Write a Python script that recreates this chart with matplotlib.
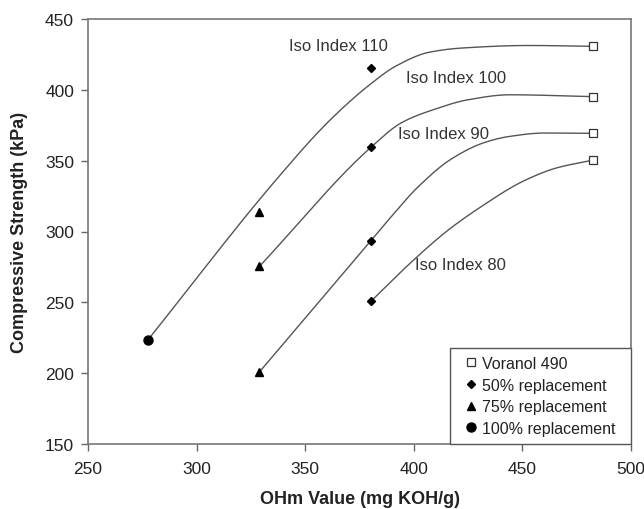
import numpy as np
import matplotlib
matplotlib.use("Agg")
from matplotlib import pyplot as plt

plt.rcParams['font.family'] = ['Liberation Sans', 'DejaVu Sans']

# measured points (OH value, compressive strength)
voranol_x = [482.6, 482.6, 482.6, 482.6]
voranol_y = [430.7, 395.2, 369.3, 350.4]
rep50_x = [380.3, 380.3, 380.3, 380.3]
rep50_y = [415.2, 359.5, 293.5, 250.8]
rep75_x = [328.9, 328.9, 328.9]
rep75_y = [313.8, 275.3, 200.8]
rep100_x = [277.7]
rep100_y = [223.7]

# iso index curves, knots along each line
iso110_x = [277.7, 338.0, 361.0, 380.0, 392.0, 407.0, 422.0, 453.0, 482.6]
iso110_y = [223.7, 339.0, 378.0, 404.0, 417.0, 426.5, 429.5, 431.3, 430.7]
iso100_x = [328.9, 380.3, 394.6, 410.0, 425.0, 444.0, 482.6]
iso100_y = [275.3, 359.5, 377.0, 386.5, 393.0, 396.5, 395.2]
iso90_x = [328.9, 380.3, 388.5, 402.3, 417.6, 432.9, 443.6, 460.0, 482.6]
iso90_y = [200.8, 293.5, 308.5, 332.0, 351.5, 363.0, 367.0, 369.5, 369.3]
iso80_x = [380.3, 400.0, 415.0, 430.0, 451.0, 466.0, 482.6]
iso80_y = [250.8, 280.0, 300.0, 316.5, 336.0, 345.0, 350.4]

curves = [(iso110_x, iso110_y), (iso100_x, iso100_y),
          (iso90_x, iso90_y), (iso80_x, iso80_y)]

labels = ["Iso Index 110", "Iso Index 100", "Iso Index 90", "Iso Index 80"]
label_x = [365.5, 419.5, 413.8, 421.4]
label_y = [431.2, 408.4, 369.3, 276.4]


def pchip(x, y, xs):
    x = np.asarray(x, float)
    y = np.asarray(y, float)
    h = np.diff(x)
    d = np.diff(y) / h
    m = np.zeros_like(y)
    m[0], m[-1] = d[0], d[-1]
    for k in range(1, len(x) - 1):
        if d[k - 1] * d[k] > 0:
            w1 = 2 * h[k] + h[k - 1]
            w2 = h[k] + 2 * h[k - 1]
            m[k] = (w1 + w2) / (w1 / d[k - 1] + w2 / d[k])
    idx = np.clip(np.searchsorted(x, xs) - 1, 0, len(x) - 2)
    t = (xs - x[idx]) / h[idx]
    h00 = 2 * t**3 - 3 * t**2 + 1
    h10 = t**3 - 2 * t**2 + t
    h01 = -2 * t**3 + 3 * t**2
    h11 = t**3 - t**2
    return (h00 * y[idx] + h10 * h[idx] * m[idx]
            + h01 * y[idx + 1] + h11 * h[idx] * m[idx + 1])


fig = plt.figure(figsize=(6.44, 5.10), dpi=100)
ax = fig.add_axes([88 / 644, 1 - 445 / 510, 543 / 644, 425 / 510])

for cx, cy in curves:
    xs = np.linspace(cx[0], cx[-1], 400)
    ax.plot(xs, pchip(cx, cy, xs), color="#555555", lw=1.0, zorder=2)

ax.plot(voranol_x, voranol_y, ls="none", marker="s", ms=5.5, mfc="white",
        mec="#333333", mew=0.9, label="Voranol 490", zorder=3)
ax.plot(rep50_x, rep50_y, ls="none", marker="D", ms=3.8, color="black",
        label="50% replacement", zorder=3)
ax.plot(rep75_x, rep75_y, ls="none", marker="^", ms=6, color="black",
        label="75% replacement", zorder=3)
ax.plot(rep100_x, rep100_y, ls="none", marker="o", ms=6.5, color="black",
        label="100% replacement", zorder=3)

for txt, tx, ty in zip(labels, label_x, label_y):
    ax.text(tx, ty, txt, ha="center", va="center", fontsize=12, color="#333333")

ax.set_xlim(250, 500)
ax.set_ylim(150, 450)
ax.set_xticks(np.arange(250, 501, 50))
ax.set_yticks(np.arange(150, 451, 50))
ax.tick_params(direction="out", length=5, width=1, color="#666666",
               labelsize=12.5, labelcolor="#222222")
ax.tick_params(axis="x", pad=7)
ax.tick_params(axis="y", pad=5)
for sp in ax.spines.values():
    sp.set_color("#777777")
    sp.set_linewidth(1.2)

ax.set_xlabel("OHm Value (mg KOH/g)", fontsize=13, fontweight="bold",
              color="#222222", labelpad=10)
ax.set_ylabel("Compressive Strength (kPa)", fontsize=13, fontweight="bold",
              color="#222222", labelpad=12)

# legend box stretched to a fixed width in the lower right corner
leg = ax.legend(loc="lower left", bbox_to_anchor=(0.667, 0, 0.333, 0.226),
                mode="expand", borderaxespad=0, fancybox=False,
                framealpha=1, edgecolor="#555555", fontsize=11.5,
                handlelength=1.65, handletextpad=-0.15, labelspacing=0.42,
                borderpad=0.5)
leg.get_frame().set_linewidth(1.0)
for t in leg.get_texts():
    t.set_color("#222222")

fig.savefig("out.png", dpi=100)
